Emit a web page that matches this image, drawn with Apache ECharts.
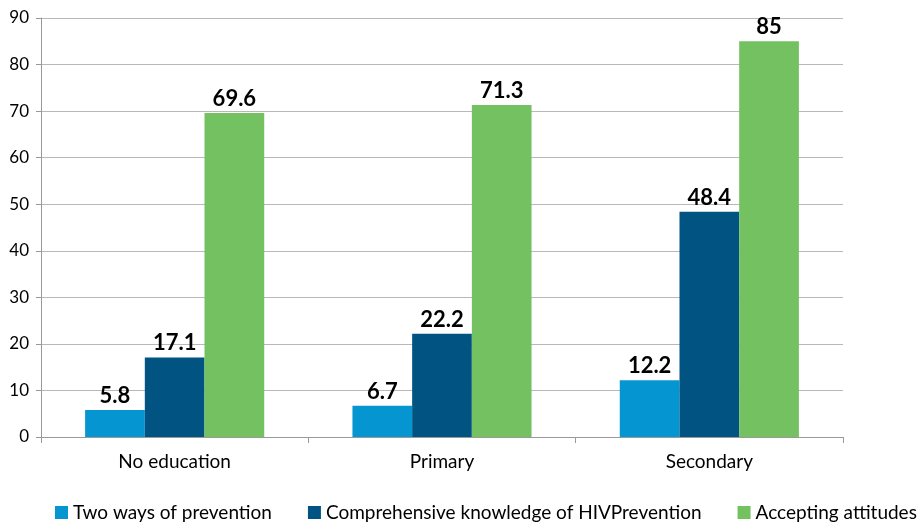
<!DOCTYPE html>
<html>
<head>
<meta charset="utf-8">
<style>
  html, body { margin: 0; padding: 0; background: #fff; }
  #chart { width: 920px; height: 522px; }
</style>
<script src="https://cdn.jsdelivr.net/npm/echarts@6/dist/echarts.min.js"></script>
</head>
<body>
<div id="chart"></div>
<script>
// data
const categories = ['No education', 'Primary', 'Secondary'];
const twoWays = [5.8, 6.7, 12.2];
const comprehensive = [17.1, 22.2, 48.4];
const accepting = [69.6, 71.3, 85];
const seriesNames = ['Two ways of prevention', 'Comprehensive knowledge of HIVPrevention', 'Accepting attitudes'];
const colors = ['#0596d2', '#015481', '#73c160'];

const font = 'Lato, "Open Sans", sans-serif';

const chart = echarts.init(document.getElementById('chart'));

function barSeries(name, data, color) {
  return {
    name: name,
    type: 'bar',
    data: data,
    barGap: '0%',
    barCategoryGap: '33%',
    itemStyle: { color: color },
    label: {
      show: true,
      position: 'top',
      distance: 3,
      color: '#000',
      fontFamily: font,
      fontWeight: 'bold',
      fontSize: 22
    }
  };
}

chart.setOption({
  animation: false,
  color: colors,
  grid: { left: 41, right: 77, top: 18, bottom: 85 },
  legend: {
    bottom: 0,
    left: 55,
    width: 865,
    padding: 0,
    itemWidth: 13,
    itemHeight: 13,
    itemGap: 36,
    icon: 'rect',
    textStyle: { fontFamily: font, fontSize: 19, color: '#000' },
    data: seriesNames
  },
  xAxis: {
    type: 'category',
    data: categories,
    axisLine: { lineStyle: { color: '#999' } },
    axisTick: { show: true, length: 6, lineStyle: { color: '#999' } },
    axisLabel: { fontFamily: font, fontSize: 19, color: '#000', margin: 15 }
  },
  yAxis: {
    type: 'value',
    min: 0,
    max: 90,
    interval: 10,
    axisLine: { show: true, lineStyle: { color: '#999' } },
    axisTick: { show: true, length: 5, lineStyle: { color: '#999' } },
    axisLabel: { fontFamily: font, fontSize: 17, color: '#000', margin: 12 },
    splitLine: { lineStyle: { color: '#b8b8b8' } }
  },
  series: [
    barSeries(seriesNames[0], twoWays, colors[0]),
    barSeries(seriesNames[1], comprehensive, colors[1]),
    barSeries(seriesNames[2], accepting, colors[2])
  ]
});
</script>
</body>
</html>
